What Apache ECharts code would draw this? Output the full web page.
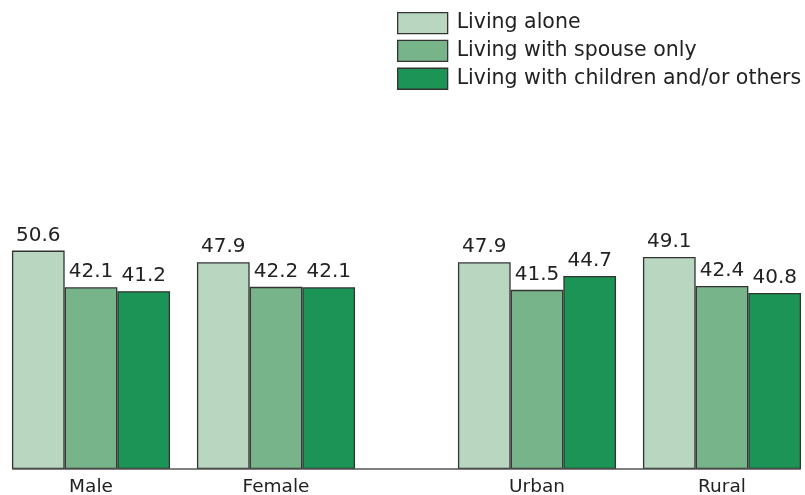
<!DOCTYPE html>
<html>
<head>
<meta charset="utf-8">
<script src="https://cdn.jsdelivr.net/npm/echarts@6/dist/echarts.min.js"></script>
<style>html,body{margin:0;padding:0;background:#fff}#c{width:805px;height:495px}</style>
</head>
<body>
<div id="c"></div>
<script>
var seriesNames = ['Living alone', 'Living with spouse only', 'Living with children and/or others'];
var catsLeft = ['Male', 'Female'];
var catsRight = ['Urban', 'Rural'];
var aloneLeft = [50.6, 47.9];
var spouseLeft = [42.1, 42.2];
var childrenLeft = [41.2, 42.1];
var aloneRight = [47.9, 49.1];
var spouseRight = [41.5, 42.4];
var childrenRight = [44.7, 40.8];
var colors = ['#b8d6c0', '#78b48a', '#1b9455'];

var font = '"DejaVu Sans", sans-serif';
var chart = echarts.init(document.getElementById('c'));

function mk(name, data, idx, axisIdx) {
  return {
    name: name, type: 'bar', data: data, clip: false,
    xAxisIndex: axisIdx, yAxisIndex: axisIdx,
    barWidth: 52.7, barGap: '0%',
    itemStyle: { color: colors[idx], borderColor: '#333', borderWidth: 1.3 },
    label: { show: true, position: 'top', distance: 5, color: '#222', fontSize: 20, fontFamily: font, formatter: function(p){ return p.value.toFixed(1); } }
  };
}

var xCommon = {
  type: 'category', boundaryGap: false,
  axisLine: { show: false }, axisTick: { show: false }, splitLine: { show: false },
  axisLabel: { color: '#222', fontSize: 18.5, fontFamily: font, margin: 9 }
};
var yCommon = { type: 'value', min: 0, max: 60, show: false, splitLine: { show: false } };

chart.setOption({
  animation: false,
  backgroundColor: '#fff',
  legend: {
    orient: 'vertical', left: 397, top: 12, padding: 0,
    icon: 'rect',
    itemWidth: 50, itemHeight: 21, itemGap: 5.5,
    textStyle: { color: '#222', fontSize: 20.5, lineHeight: 21, fontFamily: font, padding: [0,0,0,4] },
    itemStyle: { borderColor: '#333', borderWidth: 1.3 },
    data: seriesNames
  },
  grid: [
    { left: 91, width: 185, top: 210, height: 259, outerBoundsMode: 'none', containLabel: false },
    { left: 537, width: 185, top: 210, height: 259, outerBoundsMode: 'none', containLabel: false }
  ],
  xAxis: [
    Object.assign({ gridIndex: 0, data: catsLeft }, xCommon),
    Object.assign({ gridIndex: 1, data: catsRight }, xCommon)
  ],
  yAxis: [
    Object.assign({ gridIndex: 0 }, yCommon),
    Object.assign({ gridIndex: 1 }, yCommon)
  ],
  graphic: [{
    type: 'line', z: 100,
    shape: { x1: 12, y1: 469, x2: 801, y2: 469 },
    style: { stroke: '#555', lineWidth: 1.5 }
  }],
  series: [
    mk(seriesNames[0], aloneLeft, 0, 0),
    mk(seriesNames[1], spouseLeft, 1, 0),
    mk(seriesNames[2], childrenLeft, 2, 0),
    mk(seriesNames[0], aloneRight, 0, 1),
    mk(seriesNames[1], spouseRight, 1, 1),
    mk(seriesNames[2], childrenRight, 2, 1)
  ]
});
</script>
</body>
</html>
